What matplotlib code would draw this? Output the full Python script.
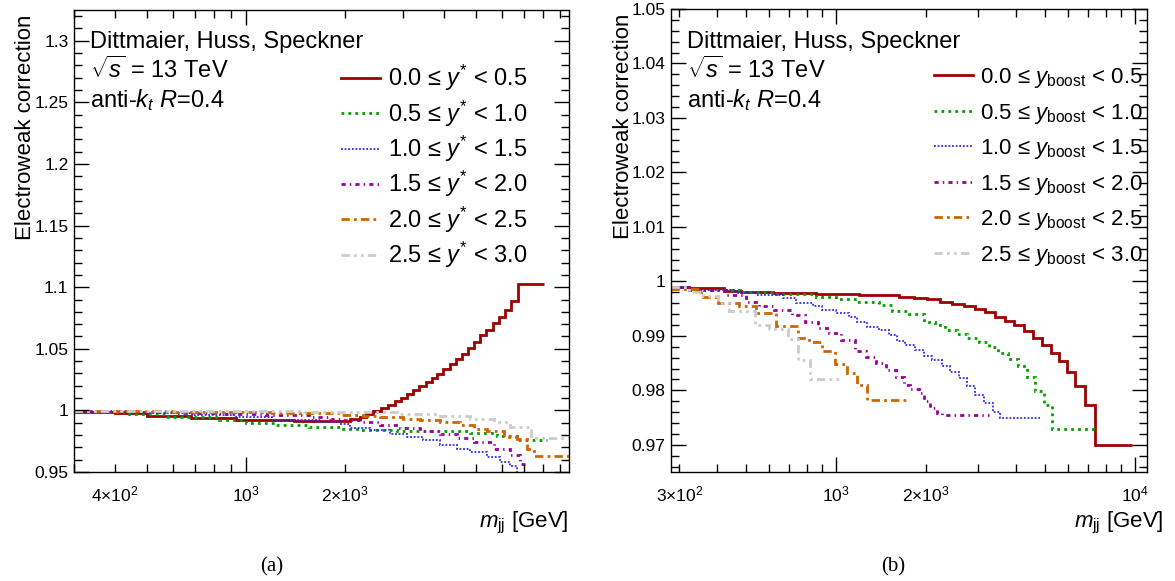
import matplotlib
matplotlib.use("Agg")
import matplotlib.pyplot as plt
from matplotlib.ticker import FixedLocator, FuncFormatter, MultipleLocator

plt.rcParams['font.family'] = ['Liberation Sans', 'DejaVu Sans']
plt.rcParams['mathtext.fontset'] = 'custom'
plt.rcParams['mathtext.rm'] = 'Liberation Sans'
plt.rcParams['mathtext.it'] = 'Liberation Sans:italic'
plt.rcParams['mathtext.bf'] = 'Liberation Sans:bold'

# ---------------- (a) y* bins : bin edges [GeV] and correction per bin
ystar_labels = ["0.0 ≤ $y^{*}$ < 0.5", "0.5 ≤ $y^{*}$ < 1.0", "1.0 ≤ $y^{*}$ < 1.5",
                "1.5 ≤ $y^{*}$ < 2.0", "2.0 ≤ $y^{*}$ < 2.5", "2.5 ≤ $y^{*}$ < 3.0"]

a0_edges = [300, 400, 500, 680, 930, 1400, 1795, 2065, 2216, 2323, 2433, 2582, 2705, 2836,
            2951, 3093, 3226, 3365, 3520, 3671, 3819, 3985, 4177, 4356, 4535, 4731, 4945,
            5159, 5370, 5626, 5869, 6122, 6418, 6727, 8054]
a0_vals = [0.9990, 0.9975, 0.9958, 0.9938, 0.9920, 0.9914, 0.9913, 0.9927, 0.9946, 0.9968,
           0.9995, 1.0019, 1.0046, 1.0073, 1.0100, 1.0130, 1.0162, 1.0195, 1.0230, 1.0265,
           1.0297, 1.0333, 1.0373, 1.0419, 1.0460, 1.0508, 1.0554, 1.0608, 1.0649, 1.0708,
           1.0762, 1.0811, 1.0892, 1.1022]

a1_edges = [300, 430, 580, 830, 1000, 1230, 1560, 1925, 2216, 2870, 4808, 5801, 6680, 8252]
a1_vals = [0.9990, 0.9970, 0.9945, 0.9920, 0.9900, 0.9880, 0.9862, 0.9851, 0.9843, 0.9830,
           0.9819, 0.9792, 0.9762]

a2_edges = [300, 450, 685, 930, 1204, 1672, 1925, 2065, 2378, 2737, 3079, 3461, 3892, 4378,
            4808, 5408, 5939, 6372, 6680, 7000]
a2_vals = [0.9990, 0.9980, 0.9965, 0.9946, 0.9924, 0.9902, 0.9886, 0.9860, 0.9838, 0.9811,
           0.9784, 0.9757, 0.9722, 0.9689, 0.9662, 0.9621, 0.9581, 0.9548, 0.9470]

a3_edges = [300, 480, 610, 870, 1150, 1560, 1795, 1970, 2216, 2551, 2938, 3381, 3892, 4378,
            4920, 5665, 6372, 6800, 7075]
a3_vals = [0.9992, 0.9988, 0.9982, 0.9973, 0.9959, 0.9944, 0.9927, 0.9919, 0.9905, 0.9884,
           0.9860, 0.9830, 0.9811, 0.9776, 0.9743, 0.9689, 0.9635, 0.9565]

a4_edges = [300, 600, 1200, 1500, 1925, 2268, 2551, 3006, 3381, 3892, 4481, 4920, 5408,
            6078, 6680, 7166, 7509, 9600]
a4_vals = [0.9992, 0.9988, 0.9982, 0.9976, 0.9962, 0.9955, 0.9946, 0.9932, 0.9919, 0.9905,
           0.9884, 0.9851, 0.9830, 0.9784, 0.9765, 0.9689, 0.9630]

a5_edges = [300, 1500, 2870, 3892, 4808, 5665, 6372, 7334, 9600]
a5_vals = [0.9993, 0.9988, 0.9973, 0.9954, 0.9932, 0.9905, 0.9865, 0.9779]

# ---------------- (b) y_boost bins
yboost_labels = ["0.0 ≤ $y_{\\mathrm{boost}}$ < 0.5", "0.5 ≤ $y_{\\mathrm{boost}}$ < 1.0",
                 "1.0 ≤ $y_{\\mathrm{boost}}$ < 1.5", "1.5 ≤ $y_{\\mathrm{boost}}$ < 2.0",
                 "2.0 ≤ $y_{\\mathrm{boost}}$ < 2.5", "2.5 ≤ $y_{\\mathrm{boost}}$ < 3.0"]

b0_edges = [282, 324, 424, 482, 615, 858, 1196, 1626, 1824, 2018, 2239, 2447, 2679, 2914,
            3162, 3415, 3687, 3961, 4279, 4562, 4885, 5234, 5597, 5948, 6310, 6812, 7356, 9817]
b0_vals = [0.9990, 0.9987, 0.9983, 0.9981, 0.9978, 0.9976, 0.9975, 0.9972, 0.9970, 0.9967,
           0.9963, 0.9959, 0.9954, 0.9949, 0.9943, 0.9935, 0.9928, 0.9919, 0.9908, 0.9896,
           0.9883, 0.9869, 0.9853, 0.9834, 0.9808, 0.9773, 0.9700]

b1_edges = [282, 324, 480, 615, 860, 1000, 1180, 1390, 1545, 1755, 1970, 2154, 2326, 2543,
            2747, 3004, 3244, 3502, 3781, 4084, 4352, 4642, 4975, 5272, 7356]
b1_vals = [0.9990, 0.9984, 0.9980, 0.9976, 0.9972, 0.9967, 0.9962, 0.9956, 0.9946, 0.9940,
           0.9926, 0.9920, 0.9911, 0.9904, 0.9896, 0.9888, 0.9879, 0.9868, 0.9857, 0.9845,
           0.9825, 0.9798, 0.9773, 0.9729]

b2_edges = [282, 324, 464, 541, 664, 736, 836, 902, 1000, 1108, 1181, 1275, 1394, 1505, 1605,
            1711, 1848, 1970, 2099, 2266, 2417, 2576, 2747, 2929, 3122, 3371, 3548, 4823]
b2_vals = [0.9990, 0.9985, 0.9979, 0.9975, 0.9969, 0.9960, 0.9955, 0.9947, 0.9942, 0.9934,
           0.9926, 0.9917, 0.9911, 0.9901, 0.9891, 0.9883, 0.9874, 0.9863, 0.9855, 0.9844,
           0.9833, 0.9822, 0.9807, 0.9792, 0.9777, 0.9761, 0.9750]

b3_edges = [282, 324, 430, 500, 553, 623, 714, 790, 873, 950, 1040, 1163, 1264, 1365, 1470,
            1585, 1689, 1778, 1895, 1970, 2073, 2180, 2266, 3244]
b3_vals = [0.9990, 0.9984, 0.9975, 0.9963, 0.9955, 0.9947, 0.9939, 0.9926, 0.9914, 0.9906,
           0.9892, 0.9872, 0.9861, 0.9851, 0.9838, 0.9825, 0.9810, 0.9803, 0.9795, 0.9780,
           0.9767, 0.9759, 0.9754]

b4_edges = [282, 355, 403, 476, 541, 631, 745, 815, 902, 995, 1093, 1181, 1275, 1754]
b4_vals = [0.9986, 0.9971, 0.9961, 0.9955, 0.9941, 0.9918, 0.9896, 0.9888, 0.9873, 0.9848,
           0.9831, 0.9810, 0.9783]

b5_edges = [282, 324, 359, 403, 441, 535, 600, 690, 745, 820, 1052]
b5_vals = [0.9989, 0.9981, 0.9974, 0.9961, 0.9945, 0.9920, 0.9912, 0.9894, 0.9856, 0.9821]

# line styles, one per rapidity bin
colors = ['#9c0000', '#00a000', '#2b2bf0', '#990099', '#cc6600', '#cccccc']
widths = [2.0, 2.0, 1.3, 2.0, 2.0, 2.0]
styles = ['-', (0, (1, 1.5)), (0, (1, 1)), (0, (1.5, 1.5, 0.5, 1.5)),
          (0, (3, 1.5, 1, 1.5)), (0, (3, 1.5, 1, 1.5, 1, 1.5))]

fig = plt.figure(figsize=(11.75, 5.81), dpi=100)
axL = fig.add_axes([74 / 1175, 1 - 472 / 581, 495 / 1175, 462 / 581])
axR = fig.add_axes([671 / 1175, 1 - 472 / 581, 476 / 1175, 463 / 581])

left_sets = [(a0_edges, a0_vals), (a1_edges, a1_vals), (a2_edges, a2_vals),
             (a3_edges, a3_vals), (a4_edges, a4_vals), (a5_edges, a5_vals)]
right_sets = [(b0_edges, b0_vals), (b1_edges, b1_vals), (b2_edges, b2_vals),
              (b3_edges, b3_vals), (b4_edges, b4_vals), (b5_edges, b5_vals)]

for i, (e, v) in enumerate(left_sets):
    axL.stairs(v, e, baseline=None, color=colors[i], lw=widths[i], linestyle=styles[i],
               label=ystar_labels[i])
for i, (e, v) in enumerate(right_sets):
    axR.stairs(v, e, baseline=None, color=colors[i], lw=widths[i], linestyle=styles[i],
               label=yboost_labels[i])


def setup(ax, xlim, ylim, ymaj, ymin, xlabels):
    ax.set_xscale('log')
    ax.set_xlim(*xlim)
    ax.set_ylim(*ylim)
    ax.xaxis.set_major_locator(FixedLocator([1000, 10000]))
    minors = [m * 10 ** k for k in (2, 3) for m in range(2, 10)]
    ax.xaxis.set_minor_locator(FixedLocator(minors))
    fmt = FuncFormatter(lambda v, p: xlabels.get(int(round(v)), ''))
    ax.xaxis.set_major_formatter(fmt)
    ax.xaxis.set_minor_formatter(fmt)
    ax.yaxis.set_major_locator(MultipleLocator(ymaj))
    ax.yaxis.set_minor_locator(MultipleLocator(ymin))
    ax.yaxis.set_major_formatter(FuncFormatter(lambda v, p: '%g' % round(v, 4)))
    ax.tick_params(which='both', direction='in', top=True, right=True, width=1.0,
                   labelsize=12.5)
    ax.tick_params(which='major', length=11)
    ax.tick_params(which='minor', length=6)
    ax.tick_params(axis='x', which='both', pad=9)
    ax.tick_params(axis='y', which='both', pad=4)
    for s in ax.spines.values():
        s.set_linewidth(1.0)


setup(axL, (300, 9600), (0.95, 1.325), 0.05, 0.01,
      {400: r'$4{\times}10^{2}$', 1000: r'$10^{3}$', 2000: r'$2{\times}10^{3}$'})
setup(axR, (281, 11000), (0.965, 1.05), 0.01, 0.002,
      {300: r'$3{\times}10^{2}$', 1000: r'$10^{3}$', 2000: r'$2{\times}10^{3}$',
       10000: r'$10^{4}$'})

for ax, w, top, ylx, xlx in [(axL, 495, 10, -38 / 495, 1.0), (axR, 476, 9, -37 / 476, 1.034)]:
    h = 472 - top
    ax.set_ylabel('Electroweak correction', fontsize=16, loc='top')
    ax.yaxis.set_label_coords(ylx, 1 - 5 / h)
    ax.set_xlabel(r'$m_{\mathrm{jj}}$ [GeV]', fontsize=16, loc='right')
    ax.xaxis.set_label_coords(xlx, -38 / h)
    x0 = 16 / w
    ax.text(x0, 1 - (48 - top) / h, 'Dittmaier, Huss, Speckner', transform=ax.transAxes,
            fontsize=17, va='baseline')
    ax.text(x0, 1 - (78 - top) / h, r'$\sqrt{s}$ = 13 TeV', transform=ax.transAxes,
            fontsize=17, va='baseline')
    ax.text(x0, 1 - (107 - top) / h, r'anti-$k_{t}$ $R$=0.4', transform=ax.transAxes,
            fontsize=17, va='baseline')

axL.legend(loc='upper left', bbox_to_anchor=((341 - 74) / 495, 1 - (63 - 10) / 462),
           frameon=False, fontsize=17, handlelength=1.65, handletextpad=0.35,
           labelspacing=0.22, borderpad=0, borderaxespad=0)
axR.legend(loc='upper left', bbox_to_anchor=((934 - 671) / 476, 1 - (66 - 9) / 463),
           frameon=False, fontsize=16, handlelength=1.75, handletextpad=0.3,
           labelspacing=0.52, borderpad=0, borderaxespad=0)

fig.text(272 / 1175, 1 - 567 / 581, '(a)', ha='center', va='center',
         family='Liberation Serif', fontsize=15)
fig.text(893 / 1175, 1 - 567 / 581, '(b)', ha='center', va='center',
         family='Liberation Serif', fontsize=15)

fig.savefig('out.png', dpi=100)
